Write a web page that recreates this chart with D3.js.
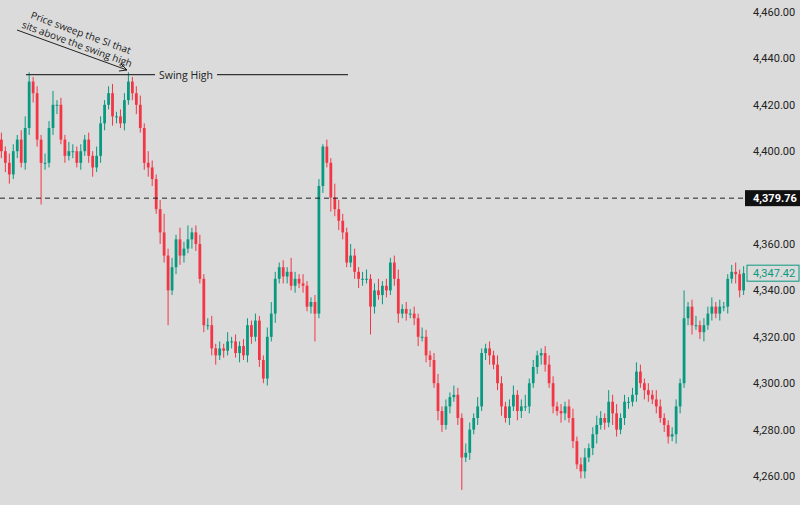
<!DOCTYPE html>
<html><head><meta charset="utf-8">
<script src="https://cdn.jsdelivr.net/npm/d3@7"></script>
<style>body{margin:0;background:#dbdbdb}svg{display:block}</style></head>
<body><svg id="c" width="800" height="505"></svg>
<script>
const closes=[4400,4395,4390,4400,4405,4395,4410,4430,4425,4405,
4395,4395,4410,4420,4420,4405,4398,4400,4400,4395,4400,4405,
4398,4393,4398,4412,4420,4425,4415,4415,4412,4422,
4430,4425,4420,4410,4395,4393,4388,4375,4365,4355,
4340,4350,4362,4355,4358,4362,4365,4360,4345,4325,
4325,4315,4312,4315,4314,4318,4318,4313,4316,4312,4325,4320,4327,4310,
4302,4320,4330,4345,4350,4346,4348,4342,4345,4343,4342,4333,
4335,4330,4385,4402,4395,4380,4375,4370,4365,4352,
4355,4348,4345,4345,4345,4333,4340,4338,4342,4340,
4352,4345,4330,4332,4330,4330,4328,4320,4320,4312,
4310,4300,4288,4282,4290,4294,4295,4285,4268,4270,
4280,4285,4290,4313,4315,4312,4308,4300,4290,4285,
4290,4295,4288,4290,4290,4300,4307,4312,4313,4308,
4300,4290,4288,4287,4290,4285,4275,4265,4262,4268,
4272,4278,4282,4285,4283,4292,4287,4280,4285,4292,
4292,4295,4305,4300,4297,4295,4293,4290,4285,4282,
4277,4278,4290,4300,4328,4333,4325,4325,4322,4325,
4330,4333,4330,4333,4333,4345,4348,4347,4340,4347.42];
const firstOpen=4405;
const wickUp=[3,2,4,3,2,4,5,4,2,3, 2,4,3,6,2,3,2,4,3,2,3,2, 3,2,4,3,2,3,4,2,3,3, 4,2,3,4,2,5,3,2,4,8,
3,4,2,5,3,6,2,3,4,2, 3,4,2,3,2,4,2,3,2,3,3,2,3,2, 2,4,5,3,2,3,2,6,3,2,4,2, 2,3,3,1,3,2,6,4,3,2,
5,3,2,3,4,2,3,5,2,3, 2,3,4,2,3,2,3,2,4,3, 2,3,4,2,3,2,4,3,2,4, 3,2,4,2,2,3,2,4,3,2,
3,4,2,3,5,2,3,2,2,3, 4,3,2,3,2,3,4,2,3,4, 2,3,4,3,2,5,3,4,2,3, 2,3,4,3,2,3,2,4,3,2,
2,3,3,2,12,2,3,4,2,3, 3,4,2,3,2,2,3,4,2,3];
const wickDn=[3,4,4,2,3,2,3,3,4,3, 18,3,2,3,4,2,3,2,3,2,3,2, 3,4,2,3,3,2,4,3,2,3, 2,3,4,2,3,4,3,2,5,3,
15,2,3,4,3,2,4,3,2,3, 2,3,4,2,3,2,3,2,4,2,3,3,2,3, 2,3,2,4,2,3,3,2,3,2,3,2, 3,12,2,3,2,6,3,4,3,2,
2,3,4,3,2,12,3,2,4,3, 2,3,4,2,3,2,3,4,2,3, 3,2,4,3,2,3,2,3,14,2, 3,2,3,2,3,4,2,3,4,2,
3,2,4,3,2,3,2,3,4,3, 2,3,2,4,3,2,3,2,3,3, 2,3,4,2,3,2,5,3,2,3, 3,2,3,2,4,3,2,3,2,3,
3,2,4,3,2,3,4,2,3,4, 2,3,2,3,2,3,2,4,3,2];
const yTicks=[4260,4280,4300,4320,4340,4360,4400,4420,4440,4460];
const dashedLevel=4379.76, swingHigh=4433, lastPrice=4347.42;

const svg=d3.select("#c"), W=745, H=505;
const x=d3.scaleBand().domain(d3.range(closes.length)).range([0,W]).paddingInner(0.3);
const y=d3.scaleLinear().domain([4260,4460]).range([476,12]);
const green="#089981", red="#f23645";
const fmt=d3.format(",.2f");
const data=closes.map((c,i)=>{const o=i?closes[i-1]:firstOpen;return{i,o,c,h:Math.max(o,c)+(wickUp[i]??2),l:Math.min(o,c)-(wickDn[i]??2)};});

const g=svg.append("g");
g.selectAll("line.w").data(data).join("line").attr("x1",d=>x(d.i)+x.bandwidth()/2).attr("x2",d=>x(d.i)+x.bandwidth()/2)
 .attr("y1",d=>y(d.h)).attr("y2",d=>y(d.l)).attr("stroke",d=>d.c>=d.o?green:red).attr("stroke-width",1);
g.selectAll("rect").data(data).join("rect").attr("x",d=>x(d.i)).attr("width",x.bandwidth())
 .attr("y",d=>y(Math.max(d.o,d.c))).attr("height",d=>Math.max(1,Math.abs(y(d.o)-y(d.c)))).attr("fill",d=>d.c>=d.o?green:red);

const ax=svg.append("g").attr("transform",`translate(${W},0)`).call(d3.axisRight(y).tickValues(yTicks).tickFormat(fmt).tickSize(0).tickPadding(8));
ax.select(".domain").remove();
ax.selectAll("text").attr("font-family","Roboto, sans-serif").attr("font-size",11).attr("fill","#222");

svg.append("line").attr("x1",0).attr("x2",W).attr("y1",y(dashedLevel)).attr("y2",y(dashedLevel)).attr("stroke","#222").attr("stroke-dasharray","5,4");
svg.append("rect").attr("x",W).attr("y",y(dashedLevel)-8).attr("width",55).attr("height",16).attr("fill","#111");
svg.append("text").attr("x",W+8).attr("y",y(dashedLevel)+4).text(fmt(dashedLevel)).attr("fill","#fff").attr("font-family","Roboto, sans-serif").attr("font-size",11).attr("font-weight","bold");
svg.append("rect").attr("x",W+2).attr("y",y(lastPrice)-8).attr("width",52).attr("height",16).attr("fill","#dbdbdb").attr("stroke",green);
svg.append("text").attr("x",W+8).attr("y",y(lastPrice)+4).text(fmt(lastPrice)).attr("fill",green).attr("font-family","Roboto, sans-serif").attr("font-size",11);

const sy=y(swingHigh);
svg.append("line").attr("x1",26).attr("x2",155).attr("y1",sy).attr("y2",sy).attr("stroke","#333").attr("stroke-width",1.2);
svg.append("line").attr("x1",217).attr("x2",348).attr("y1",sy).attr("y2",sy).attr("stroke","#333").attr("stroke-width",1.2);
svg.append("text").attr("x",186).attr("y",sy+4).attr("text-anchor","middle").text("Swing High").attr("font-family","'Open Sans', sans-serif").attr("font-size",10.5).attr("fill","#222");

svg.append("line").attr("x1",17).attr("y1",30).attr("x2",127).attr("y2",70).attr("stroke","#222");
svg.append("path").attr("d","M121,64 L127,70 L119,71").attr("fill","none").attr("stroke","#222");
const ann=svg.append("text").attr("transform","translate(30,18) rotate(20)").attr("font-family","'Open Sans', sans-serif").attr("font-size",10).attr("fill","#222");
ann.append("tspan").attr("x",0).attr("y",0).text("Price sweep the SI that");
ann.append("tspan").attr("x",-5).attr("y",12).text("sits above the swing high");
</script></body></html>
